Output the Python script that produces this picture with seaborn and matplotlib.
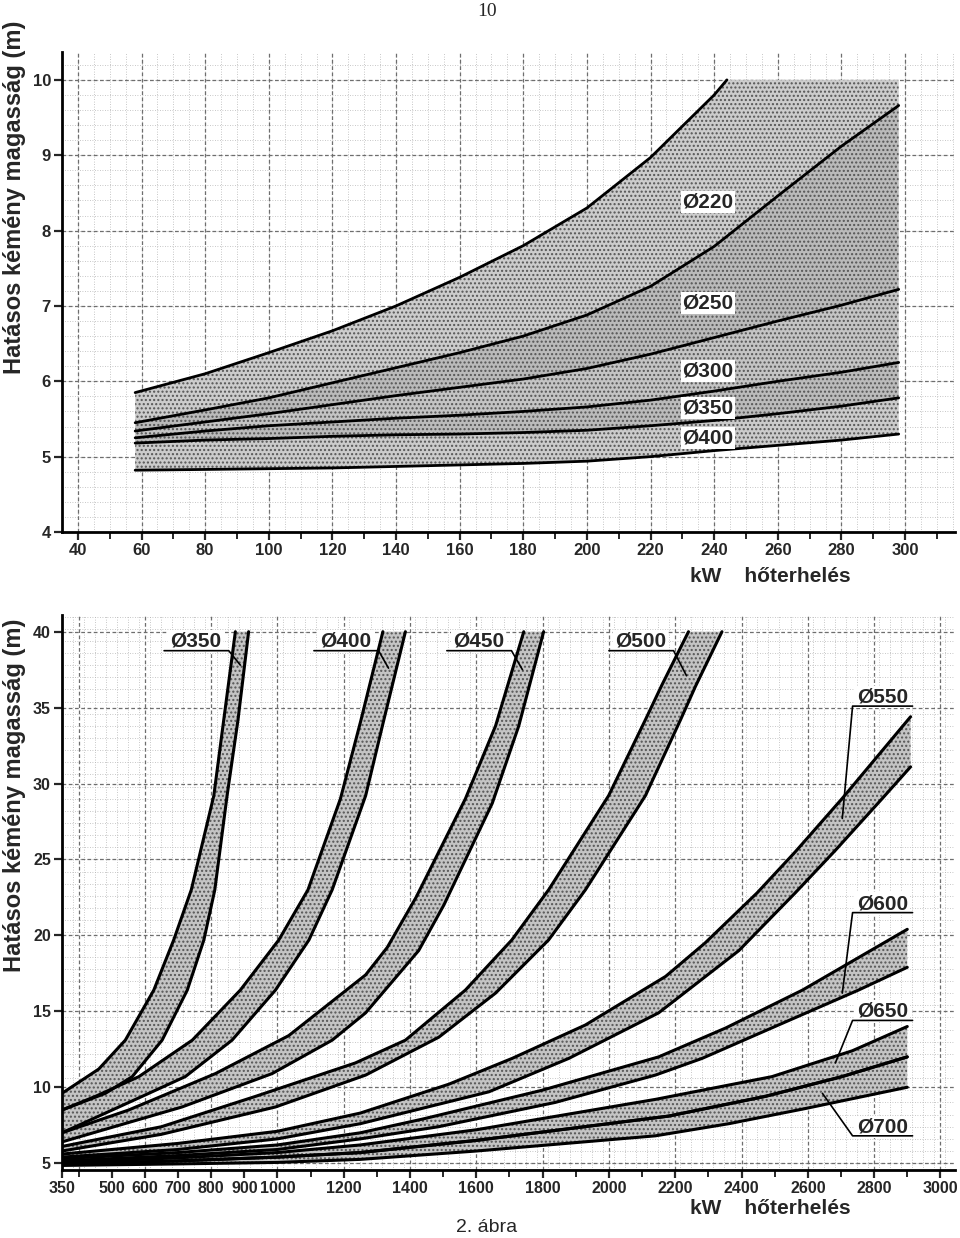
import numpy as np
import matplotlib
matplotlib.use("Agg")
import matplotlib.pyplot as plt
import seaborn as sns

# ---- upper chart (kW, m) ----
top_kw = [58, 80, 100, 120, 140, 160, 180, 200, 220, 240, 260, 280, 298]
top_a_kw = [58, 80, 100, 120, 140, 160, 180, 200, 220, 240, 244]
top_a_m = [5.85, 6.1, 6.38, 6.67, 7.0, 7.38, 7.8, 8.3, 8.97, 9.8, 10.0]
top_b_m = [5.45, 5.62, 5.78, 5.98, 6.18, 6.38, 6.60, 6.88, 7.26, 7.79, 8.46, 9.12, 9.66]
top_c_m = [5.34, 5.46, 5.57, 5.69, 5.81, 5.92, 6.03, 6.17, 6.36, 6.58, 6.80, 7.01, 7.22]
top_d_m = [5.25, 5.34, 5.41, 5.46, 5.51, 5.55, 5.60, 5.66, 5.75, 5.87, 6.00, 6.12, 6.25]
top_e_m = [5.18, 5.22, 5.24, 5.27, 5.29, 5.30, 5.32, 5.35, 5.41, 5.48, 5.57, 5.67, 5.78]
top_f_m = [4.82, 4.83, 4.84, 4.85, 4.87, 4.89, 4.91, 4.94, 5.00, 5.08, 5.15, 5.22, 5.30]
top_labels = ["220", "250", "300", "350", "400"]

# ---- lower chart (kW, m), upper and lower edge of each band ----
d350_up_kw = [350, 461, 541, 627, 687, 740, 808, 838, 873]
d350_up_m = [9.6, 11.2, 13.1, 16.4, 19.7, 23.0, 29.2, 34.2, 40.0]
d350_lo_kw = [350, 481, 562, 652, 728, 778, 811, 848, 881, 913]
d350_lo_m = [8.5, 9.6, 10.7, 13.1, 16.4, 19.7, 23.0, 29.2, 34.2, 40.0]

d400_up_kw = [350, 451, 582, 743, 888, 1004, 1092, 1190, 1251, 1318]
d400_up_m = [8.5, 9.4, 10.7, 13.1, 16.4, 19.7, 23.0, 29.0, 34.1, 40.0]
d400_lo_kw = [350, 431, 592, 722, 863, 994, 1095, 1165, 1266, 1321, 1386]
d400_lo_m = [7.0, 7.8, 9.4, 10.7, 13.1, 16.4, 19.7, 23.0, 29.2, 34.2, 40.0]

d450_up_kw = [350, 551, 813, 1034, 1266, 1331, 1418, 1567, 1658, 1743]
d450_up_m = [7.0, 8.5, 10.9, 13.4, 17.4, 19.2, 22.5, 29.0, 33.8, 40.0]
d450_lo_kw = [350, 712, 984, 1165, 1266, 1426, 1502, 1648, 1728, 1803]
d450_lo_m = [6.4, 8.7, 10.9, 13.1, 14.9, 19.0, 22.0, 28.7, 33.8, 40.0]

d500_up_kw = [350, 650, 934, 1235, 1386, 1567, 1707, 1818, 1999, 2110, 2160, 2240]
d500_up_m = [6.1, 7.4, 9.4, 11.6, 13.1, 16.4, 19.7, 23.0, 29.2, 34.2, 36.5, 40.0]
d500_lo_kw = [350, 650, 994, 1266, 1487, 1658, 1818, 1929, 2110, 2216, 2261, 2341]
d500_lo_m = [5.8, 6.9, 8.7, 10.8, 13.3, 16.2, 19.7, 23.0, 29.2, 34.2, 36.4, 40.0]

d550_up_kw = [350, 700, 1000, 1250, 1517, 1708, 1929, 2171, 2290, 2447, 2562, 2703, 2910]
d550_up_m = [5.6, 6.3, 7.1, 8.3, 10.2, 11.9, 14.1, 17.3, 19.5, 22.8, 25.5, 29.0, 34.4]
d550_lo_kw = [350, 700, 1000, 1250, 1638, 1879, 2150, 2392, 2562, 2683, 2824, 2910]
d550_lo_m = [5.4, 5.9, 6.6, 7.6, 9.7, 11.9, 14.9, 19.0, 22.8, 25.6, 29.0, 31.1]

d600_up_kw = [350, 700, 1000, 1250, 1437, 1798, 2150, 2352, 2584, 2900]
d600_up_m = [5.3, 5.7, 6.2, 7.0, 7.9, 9.8, 12.0, 13.9, 16.4, 20.4]
d600_lo_kw = [350, 700, 1000, 1250, 1486, 1838, 2140, 2281, 2522, 2753, 2900]
d600_lo_m = [5.15, 5.5, 5.9, 6.6, 7.4, 9.0, 10.8, 11.9, 14.2, 16.4, 17.9]

d650_up_kw = [350, 700, 1000, 1250, 1600, 2140, 2492, 2734, 2900]
d650_up_m = [5.05, 5.35, 5.7, 6.2, 7.2, 9.2, 10.7, 12.4, 14.0]
d650_lo_kw = [350, 700, 1000, 1250, 1600, 2180, 2472, 2703, 2900]
d650_lo_m = [4.95, 5.15, 5.4, 5.7, 6.5, 8.1, 9.4, 10.7, 12.0]

d700_lo_kw = [350, 700, 1000, 1250, 1600, 2140, 2362, 2593, 2900]
d700_lo_m = [4.85, 4.95, 5.05, 5.25, 5.8, 6.8, 7.6, 8.6, 10.0]

low_ticks = [350, 500, 600, 700, 800, 900, 1000, 1200, 1400, 1600, 1800,
             2000, 2200, 2400, 2600, 2800, 3000]

sns.set_style("white")
plt.rcParams["font.family"] = ["Liberation Sans", "DejaVu Sans"]

fig = plt.figure(figsize=(9.6, 12.38), dpi=100)
ax1 = fig.add_axes([62 / 960, 1 - 532 / 1238, 893 / 960, 480 / 1238])
ax2 = fig.add_axes([62 / 960, 1 - 1170 / 1238, 893 / 960, 555 / 1238])


def paper(ax, xs_minor, xs_major, ys_minor, ys_major):
    # graph paper look of the scan
    ax.vlines(xs_minor, *ax.get_ylim(), colors="#b5b5b5", lw=0.6, ls=(0, (1, 2)), zorder=0)
    ax.hlines(ys_minor, *ax.get_xlim(), colors="#b5b5b5", lw=0.6, ls=(0, (1, 2)), zorder=0)
    ax.vlines(xs_major, *ax.get_ylim(), colors="#6e6e6e", lw=0.9, ls=(0, (3, 2)), zorder=0)
    ax.hlines(ys_major, *ax.get_xlim(), colors="#6e6e6e", lw=0.9, ls=(0, (3, 2)), zorder=0)


def style(ax, size):
    sns.despine(ax=ax)
    for s in ["left", "bottom"]:
        ax.spines[s].set_linewidth(2.0)
        ax.spines[s].set_color("black")
    ax.tick_params(which="major", direction="out", length=6, width=1.6,
                   labelsize=size, bottom=True, left=True, pad=2)
    ax.tick_params(which="minor", direction="out", length=5, width=1.4, bottom=True)
    for t in ax.get_xticklabels() + ax.get_yticklabels():
        t.set_fontweight("bold")


def tag(ax, x, y, text):
    ax.text(x, y, text, fontsize=15, fontweight="bold", ha="center", va="center",
            zorder=4, bbox=dict(boxstyle="square,pad=0.08", fc="white", ec="none"))


def band(ax, ukw, um, lkw, lm, col):
    px = list(ukw) + list(lkw[::-1])
    py = list(um) + list(lm[::-1])
    ax.fill(px, py, facecolor=col, edgecolor="#555555", hatch="....", lw=0, zorder=1)


# ---------- upper chart ----------
ax1.set_xlim(35, 315.7)
ax1.set_ylim(4.0, 10.37)
paper(ax1, np.arange(35, 316, 5), np.arange(40, 316, 20),
      np.arange(4.2, 10.4, 0.2), np.arange(5, 10.5, 1))

# the Ø220 field is capped at 10 m on the right
band(ax1, top_a_kw + [298], top_a_m + [10.0], top_kw, top_b_m, "#cccccc")
band(ax1, top_kw, top_b_m, top_kw, top_c_m, "#bababa")
band(ax1, top_kw, top_c_m, top_kw, top_d_m, "#c4c4c4")
band(ax1, top_kw, top_d_m, top_kw, top_e_m, "#bbbbbb")
band(ax1, top_kw, top_e_m, top_kw, top_f_m, "#cbcbcb")

sns.lineplot(x=top_a_kw, y=top_a_m, ax=ax1, color="black", lw=2.0, zorder=3)
for ys in [top_b_m, top_c_m, top_d_m, top_e_m, top_f_m]:
    sns.lineplot(x=top_kw, y=ys, ax=ax1, color="black", lw=2.0, zorder=3)

lab_y = [8.38, 7.04, 6.14, 5.65, 5.25]
for name, yy in zip(top_labels, lab_y):
    tag(ax1, 238, yy, "\u00d8" + name)

ax1.set_xticks(np.arange(40, 301, 20))
ax1.set_xticks(np.arange(50, 311, 20), minor=True)
ax1.set_yticks(np.arange(4, 11, 1))
ax1.set_xlabel("")
ax1.set_ylabel("")
style(ax1, 12)

# ---------- lower chart ----------
ax2.set_xlim(350, 3044)
ax2.set_ylim(4.55, 41.1)
paper(ax2, np.arange(350, 3044, 33.3), np.arange(400, 3044, 200),
      np.arange(5, 41.1, 0.8), np.arange(5, 41, 5))

curves = [(d350_up_kw, d350_up_m, d350_lo_kw, d350_lo_m),
          (d400_up_kw, d400_up_m, d400_lo_kw, d400_lo_m),
          (d450_up_kw, d450_up_m, d450_lo_kw, d450_lo_m),
          (d500_up_kw, d500_up_m, d500_lo_kw, d500_lo_m),
          (d550_up_kw, d550_up_m, d550_lo_kw, d550_lo_m),
          (d600_up_kw, d600_up_m, d600_lo_kw, d600_lo_m),
          (d650_up_kw, d650_up_m, d650_lo_kw, d650_lo_m),
          (d650_lo_kw, d650_lo_m, d700_lo_kw, d700_lo_m)]
for ukw, um, lkw, lm in curves:
    band(ax2, ukw, um, lkw, lm, "#c4c4c4")
    sns.lineplot(x=ukw, y=um, ax=ax2, color="black", lw=2.2, zorder=3)
    sns.lineplot(x=lkw, y=lm, ax=ax2, color="black", lw=2.2, zorder=3)

# labels with leader lines above the steep bands
lbl_d = ["350", "400", "450", "500"]
lbl_x = [753, 1205, 1606, 2095]
tip = [(888, 37.8), (1335, 37.6), (1739, 37.5), (2234, 37.1)]
for d, x0, (tx, ty) in zip(lbl_d, lbl_x, tip):
    tag(ax2, x0, 39.4, "\u00d8" + d)
    ax2.plot([x0 - 95, x0 + 100, tx], [38.75, 38.75, ty], color="black", lw=1.2, zorder=4)

side = [("550", 35.7, (2704, 27.7)), ("600", 22.1, (2704, 16.2)),
        ("650", 15.0, (2683, 11.6)), ("700", 7.4, (2644, 9.6))]
for d, yy, (tx, ty) in side:
    tag(ax2, 2825, yy, "\u00d8" + d)
    ax2.plot([2916, 2735, tx], [yy - 0.6, yy - 0.6, ty], color="black", lw=1.2, zorder=4)

ax2.set_xticks(low_ticks)
ax2.set_xticks(np.arange(400, 3001, 100), minor=True)
ax2.set_yticks(np.arange(5, 41, 5))
ax2.set_xlabel("")
ax2.set_ylabel("")
style(ax2, 11.5)

# ---------- texts ----------
fig.text(487 / 960, 1 - 11 / 1238, "10", fontsize=14, ha="center", va="center",
         family=["Liberation Serif", "DejaVu Serif"])
for yc in [197, 795]:
    fig.text(15 / 960, 1 - yc / 1238, "Hatásos kémény magasság (m)", rotation=90,
             fontsize=17, fontweight="bold", ha="center", va="center")
for yc in [577, 1208]:
    fig.text(690 / 960, 1 - yc / 1238, "kW    hőterhelés", fontsize=15,
             fontweight="bold", ha="left", va="center")
fig.text(487 / 960, 1 - 1228 / 1238, "2. ábra", fontsize=14, ha="center", va="center")

fig.savefig("out.png", dpi=100)
